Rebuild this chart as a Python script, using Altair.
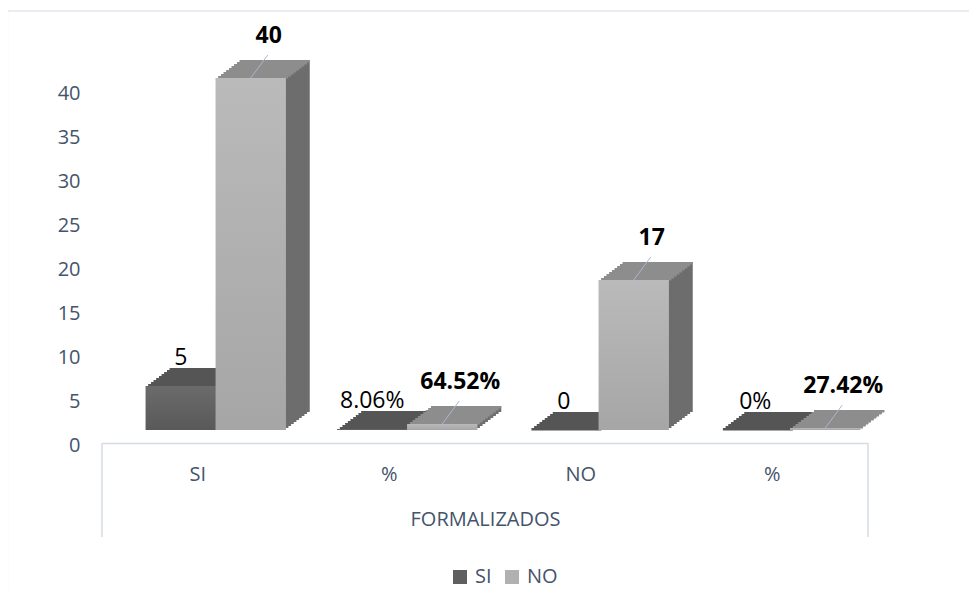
import altair as alt
import pandas as pd

# ---- data ----
categories = ["SI", "%", "NO", "%"]
series = ["SI", "NO"]
si_values = [5, 0.0806, 0, 0]
no_values = [40, 0.6452, 17, 0.2742]
si_labels = ["5", "8.06%", "0", "0%"]
no_labels = ["40", "64.52%", "17", "27.42%"]
y_ticks = [0, 5, 10, 15, 20, 25, 30, 35, 40]
group_title = "FORMALIZADOS"

rows = []
for i in range(len(categories)):
    rows.append(dict(key=str(i), series="SI", value=si_values[i], label=si_labels[i]))
    rows.append(dict(key=str(i), series="NO", value=no_values[i], label=no_labels[i]))
df = pd.DataFrame(rows)
keys = [str(i) for i in range(len(categories))]
label_expr = "[" + ",".join("'%s'" % c for c in categories) + "][toNumber(datum.value)]"

# ---- style ----
FONT = "Open Sans"
AXIS_COL = "#44546a"
LINE_COL = "#d6dce4"
COLS = {
    "SI": dict(front="#5f5f5f", top="#555555", side="#4a4a4a",
               grad=("#6b6b6b", "#595959")),
    "NO": dict(front="#b1b1b1", top="#8d8d8d", side="#6d6d6d",
               grad=("#bababa", "#a6a6a6")),
}
BAR_W = 70
FX, FY = 18, -15             # front face shift
SHIFT = {"SI": FX - BAR_W / 2, "NO": FX + BAR_W / 2}
N, DX, DY = 9, 24 / 9, 2     # depth steps

W, H = 766, 396

base = alt.Chart(df).encode(
    x=alt.X("key:N", sort=keys,
            scale=alt.Scale(paddingInner=0.27, paddingOuter=0.135),
            axis=alt.Axis(labelExpr=label_expr, labelAngle=0, title=group_title,
                          ticks=False, tickSize=0, labelPadding=21, offset=-2,
                          domainColor=LINE_COL, domainWidth=1.5,
                          labelFont=FONT, labelFontSize=20, labelColor=AXIS_COL,
                          titleFont=FONT, titleFontSize=20, titleFontWeight="normal",
                          titleColor=AXIS_COL, titlePadding=25)),
    y=alt.Y("value:Q", scale=alt.Scale(domain=[0, 45], round=True),
            axis=alt.Axis(values=y_ticks, title=None, domain=False, ticks=False,
                          tickSize=0, grid=False, labelPadding=22,
                          labelFont=FONT, labelFontSize=20, labelColor=AXIS_COL)),
)

layers = []
for k in range(N, 0, -1):
    oy = FY - DY * k
    for s in series:
        ox = SHIFT[s] + DX * k
        sub = base.transform_filter(alt.datum.series == s)
        body = sub.mark_bar(width=BAR_W, xOffset=ox, yOffset=oy, y2Offset=oy,
                            strokeWidth=0, color=COLS[s]["side"]).encode(y2=alt.datum(0))
        strip = sub.mark_bar(width=BAR_W, xOffset=ox, yOffset=oy, y2Offset=oy + DY + 0.5,
                             strokeWidth=0, color=COLS[s]["top"]).encode(y2=alt.Y2("value:Q"))
        layers += [body, strip]

color_enc = alt.Color("series:N", sort=series,
                      scale=alt.Scale(domain=series,
                                      range=[COLS[s]["front"] for s in series]),
                      legend=alt.Legend(orient="none", legendX=348, legendY=518,
                                        direction="horizontal", title=None,
                                        symbolType="square", symbolSize=196,
                                        symbolStrokeWidth=0, symbolOpacity=1,
                                        labelFont=FONT, labelFontSize=20,
                                        labelColor=AXIS_COL, columnPadding=10,
                                        labelOffset=5))
for s in series:
    sub = base.transform_filter(alt.datum.series == s)
    front = sub.mark_bar(
        width=BAR_W, xOffset=SHIFT[s], yOffset=FY, y2Offset=FY, strokeWidth=0
    ).encode(y2=alt.datum(0), color=color_enc)
    grad = alt.LinearGradient(
        gradient="linear", x1=0, x2=0, y1=0, y2=1,
        stops=[alt.GradientStop(color=COLS[s]["grad"][0], offset=0),
               alt.GradientStop(color=COLS[s]["grad"][1], offset=1)])
    shade = sub.mark_bar(
        width=BAR_W, xOffset=SHIFT[s], yOffset=FY, y2Offset=FY, strokeWidth=0,
        fill=grad).encode(y2=alt.datum(0))
    layers += [front, shade]

leaders = base.transform_filter(alt.datum.series == "NO").mark_point(
    shape="M0,0L17,-23", size=4, xOffset=SHIFT["NO"], yOffset=FY,
    filled=False, stroke="#a9b8cc", strokeWidth=1, opacity=1)
layers.append(leaders)

si_text = base.transform_filter(alt.datum.series == "SI").mark_text(
    dx=SHIFT["SI"], dy=FY - 28, font=FONT, fontSize=23, color="black"
).encode(text="label:N")
no_text = base.transform_filter(alt.datum.series == "NO").mark_text(
    dx=SHIFT["NO"] + 18, dy=FY - 42, font=FONT, fontSize=23, fontWeight="bold",
    color="black").encode(text="label:N")
layers += [si_text, no_text]

one = pd.DataFrame({"a": [0]})
frame_top = alt.Chart(one).mark_rule(color=LINE_COL, strokeWidth=1.2).encode(
    x=alt.value(-94), x2=alt.value(867), y=alt.value(-38))
frame_left = alt.Chart(one).mark_rule(color=LINE_COL, strokeWidth=1.2).encode(
    x=alt.value(-94.5), y=alt.value(-38), y2=alt.value(539))
sep_left = alt.Chart(one).mark_rule(color=LINE_COL, strokeWidth=1.5).encode(
    x=alt.value(0), y=alt.value(H - 2), y2=alt.value(488))
sep_right = alt.Chart(one).mark_rule(color=LINE_COL, strokeWidth=1.5).encode(
    x=alt.value(W), y=alt.value(H - 2), y2=alt.value(488))

chart = alt.layer(frame_top, frame_left, sep_left, sep_right, *layers).properties(
    width=W, height=H,
    autosize=alt.AutoSizeParams(type="none"),
    padding={"left": 94, "top": 41, "right": 101, "bottom": 143},
).configure_view(stroke=None)

chart.save("out.html", embed_options={"renderer": "svg", "actions": False})
